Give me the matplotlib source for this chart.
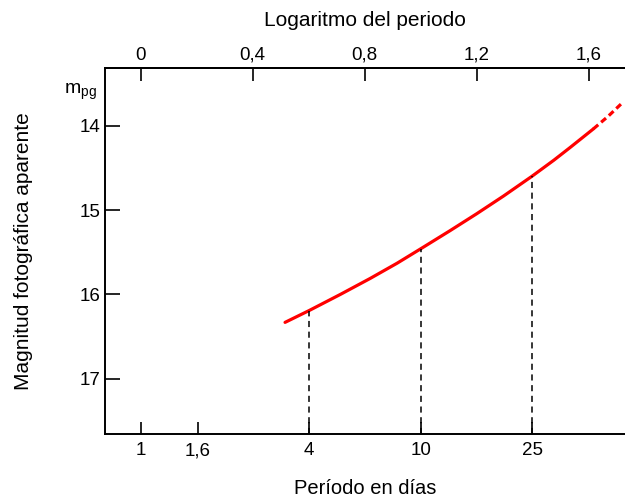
import matplotlib.pyplot as plt
import numpy as np

plt.rcParams['font.family'] = ['Liberation Sans', 'DejaVu Sans']
plt.rcParams['mathtext.fontset'] = 'custom'
plt.rcParams['mathtext.rm'] = 'Liberation Sans'

# curve: log10(period) vs apparent photographic magnitude
log_p = [0.516, 0.602, 0.713, 0.820, 0.916, 1.000, 1.105, 1.200, 1.296, 1.398, 1.476, 1.534, 1.617]
mag = [16.33, 16.19, 16.00, 15.81, 15.63, 15.46, 15.245, 15.045, 14.835, 14.60, 14.41, 14.26, 14.04]
# dotted continuation
log_p_ext = [1.617, 1.67, 1.724]
mag_ext = [14.04, 13.89, 13.72]

top_ticks = [0, 0.4, 0.8, 1.2, 1.6]
top_labels = ['0', '0,4', '0,8', '1,2', '1,6']
period_ticks = [1, 1.6, 4, 10, 25]
period_labels = ['1', '1,6', '4', '10', '25']
mag_ticks = [14, 15, 16, 17]
# indexes in the curve where the dashed drop lines are drawn (P = 4, 10, 25)
drop_idx = [1, 5, 9]

fig = plt.figure(figsize=(6.25, 4.97), dpi=100)
ax = fig.add_axes([0.168, 0.127, 0.832, 0.736])

ax.plot(log_p, mag, color='#ff0000', lw=2.3, solid_capstyle='round',
        solid_joinstyle='round')
ax.plot(log_p_ext, mag_ext, color='#ff0000', lw=2.3, ls=(0, (2, 1.2)))

for i in drop_idx:
    ax.plot([log_p[i], log_p[i]], [17.65, mag[i]], color='black', lw=1.1,
            ls=(0, (4, 3)))

ax.set_xlim(-0.127, 1.73)
ax.set_ylim(17.65, 13.32)

ax.spines['right'].set_visible(False)
for s in ['left', 'bottom', 'top']:
    ax.spines[s].set_linewidth(1.4)

ax.set_yticks(mag_ticks)
ax.set_yticklabels([str(m) for m in mag_ticks])
ax.tick_params(axis='y', direction='in', length=11, width=1.2, labelsize=13.5, pad=3)

ax.set_xticks(np.log10(period_ticks))
ax.set_xticklabels(period_labels)
ax.tick_params(axis='x', direction='in', length=9, width=1.2, labelsize=13.5, pad=6)
ax.set_xlabel('Período en días', fontsize=14.5, labelpad=14)
ax.set_ylabel('Magnitud fotográfica aparente', fontsize=15, labelpad=34)

top = ax.secondary_xaxis('top')
top.set_xticks(top_ticks)
top.set_xticklabels(top_labels)
top.tick_params(direction='in', length=9, width=1.2, labelsize=13.5, pad=3)
top.spines['top'].set_linewidth(1.4)
top.set_xlabel('Logaritmo del periodo', fontsize=15, labelpad=15)

ax.text(-0.275, 13.6, r'm$_{\mathrm{pg}}$', fontsize=14, ha='left', va='center')

fig.savefig('out.png', dpi=100)
